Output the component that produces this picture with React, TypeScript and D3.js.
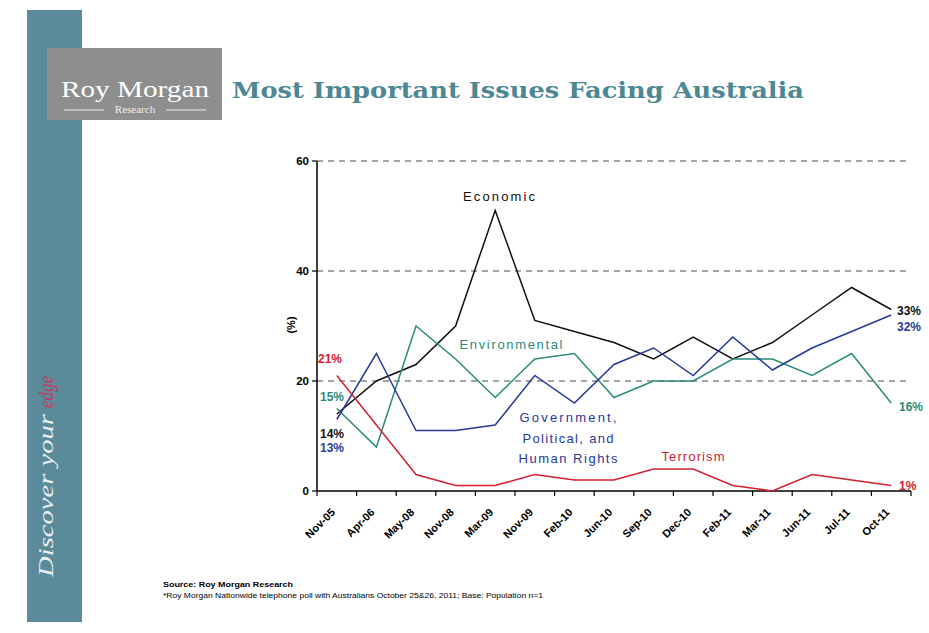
import React from 'react';
import * as d3 from 'd3';

const categories = ['Nov-05', 'Apr-06', 'May-08', 'Nov-08', 'Mar-09', 'Nov-09', 'Feb-10', 'Jun-10', 'Sep-10', 'Dec-10', 'Feb-11', 'Mar-11', 'Jun-11', 'Jul-11', 'Oct-11'];
const economic = [14, 20, 23, 30, 51, 31, 29, 27, 24, 28, 24, 27, 32, 37, 33];
const environmental = [15, 8, 30, 24, 17, 24, 25, 17, 20, 20, 24, 24, 21, 25, 16];
const government = [13, 25, 11, 11, 12, 21, 16, 23, 26, 21, 28, 22, 26, 29, 32];
const terrorism = [21, 12, 3, 1, 1, 3, 2, 2, 4, 4, 1, 0, 3, 2, 1];
const yTicks = [0, 20, 40, 60];
const gridTicks = [20, 40, 60];

const C_BLACK = '#111111';
const C_GREEN = '#2a8a7c';
const C_BLUE = '#28399a';
const C_RED = '#d4202f';

const W = 929;
const H = 633;

export default function App() {
  const x = d3.scaleBand<string>().domain(categories).range([317, 911]);
  const y = d3.scaleLinear().domain([0, 60]).range([491, 161]);
  const cx = (i: number) => (x(categories[i]) as number) + x.bandwidth() / 2;
  const line = d3
    .line<number>()
    .x((_, i) => cx(i))
    .y((d) => y(d))
    .curve(d3.curveLinear);

  const series = [
    { values: economic, color: C_BLACK },
    { values: environmental, color: C_GREEN },
    { values: government, color: C_BLUE },
    { values: terrorism, color: C_RED },
  ];

  const last = categories.length - 1;
  const font = 'Arial, "Liberation Sans", sans-serif';
  const ticksX = d3.range(categories.length + 1).map((i) => 317 + i * x.bandwidth());

  return (
    <svg width={W} height={H} style={{ position: 'absolute', left: 0, top: 0, background: '#ffffff' }}>
      {/* sidebar */}
      <rect x={27} y={10} width={55} height={612} fill="#5b8a9b" />
      <text
        transform="translate(53,577) rotate(-90)"
        fontFamily='"Liberation Serif", "DejaVu Serif", serif'
        fontStyle="italic"
        fontSize={22}
        fill="#e6eef0"
        textLength={163}
        lengthAdjust="spacingAndGlyphs"
      >
        Discover your
      </text>
      <text
        transform="translate(53,408) rotate(-90)"
        fontFamily='"Liberation Serif", "DejaVu Serif", serif'
        fontStyle="italic"
        fontSize={22}
        fill="#c23a5e"
        textLength={32}
        lengthAdjust="spacingAndGlyphs"
      >
        edge
      </text>

      {/* logo */}
      <rect x={47} y={48} width={175} height={72} fill="#8e8e8e" />
      <text x={135} y={97} textAnchor="middle" fontFamily='"Liberation Serif", "DejaVu Serif", serif' fontSize={24} fill="#ffffff" textLength={148} lengthAdjust="spacingAndGlyphs">
        Roy Morgan
      </text>
      <line x1={64} x2={104} y1={110} y2={110} stroke="#f0f0f0" strokeWidth={1} />
      <line x1={166} x2={206} y1={110} y2={110} stroke="#f0f0f0" strokeWidth={1} />
      <text x={135} y={113} textAnchor="middle" fontFamily='"Liberation Serif", "DejaVu Serif", serif' fontSize={11} fill="#f0f0f0">
        Research
      </text>

      {/* title */}
      <text x={232} y={98} fontFamily='"DejaVu Serif", serif' fontWeight="bold" fontSize={23} fill="#4b8894" textLength={572} lengthAdjust="spacingAndGlyphs">
        Most Important Issues Facing Australia
      </text>

      {/* gridlines */}
      {gridTicks.map((t) => (
        <line key={t} x1={317} x2={911} y1={y(t)} y2={y(t)} stroke="#888888" strokeWidth={1.3} strokeDasharray="6,5" />
      ))}

      {/* axes */}
      <line x1={317} x2={317} y1={y(60)} y2={y(0)} stroke="#000" strokeWidth={1.5} />
      <line x1={317} x2={911} y1={y(0)} y2={y(0)} stroke="#000" strokeWidth={1.5} />
      {yTicks.map((t) => (
        <g key={t}>
          <line x1={312} x2={317} y1={y(t)} y2={y(t)} stroke="#000" strokeWidth={1.2} />
          <text x={309} y={y(t) + 4} textAnchor="end" fontFamily={font} fontWeight="bold" fontSize={11.5} fill="#000">
            {t}
          </text>
        </g>
      ))}
      {ticksX.map((tx, i) => (
        <line key={i} x1={tx} x2={tx} y1={y(0)} y2={y(0) + 5} stroke="#000" strokeWidth={1.2} />
      ))}
      {categories.map((c, i) => (
        <text
          key={c}
          transform={`translate(${cx(i) - 1},${y(0) + 22}) rotate(-45)`}
          textAnchor="end"
          fontFamily={font}
          fontWeight="bold"
          fontSize={11}
          fill="#000"
        >
          {c}
        </text>
      ))}
      <text transform="translate(295,325) rotate(-90)" textAnchor="middle" fontFamily={font} fontWeight="bold" fontSize={11} fill="#000">
        (%)
      </text>

      {/* lines */}
      {series.map((s, i) => (
        <path key={i} d={line(s.values) || ''} fill="none" stroke={s.color} strokeWidth={1.5} />
      ))}

      {/* series labels */}
      <text x={499} y={201} textAnchor="middle" fontFamily={font} fontSize={13} fill={C_BLACK} textLength={72} lengthAdjust="spacing">
        Economic
      </text>
      <text x={511} y={349} textAnchor="middle" fontFamily={font} fontSize={13} fill={C_GREEN} textLength={103} lengthAdjust="spacing">
        Environmental
      </text>
      <text x={568} y={422} textAnchor="middle" fontFamily={font} fontSize={13} fill={C_BLUE} textLength={97} lengthAdjust="spacing">
        Government,
      </text>
      <text x={568} y={443} textAnchor="middle" fontFamily={font} fontSize={13} fill={C_BLUE} textLength={91} lengthAdjust="spacing">
        Political, and
      </text>
      <text x={568} y={463} textAnchor="middle" fontFamily={font} fontSize={13} fill={C_BLUE} textLength={99} lengthAdjust="spacing">
        Human Rights
      </text>
      <text x={693} y={461} textAnchor="middle" fontFamily={font} fontSize={13} fill={C_RED} textLength={63} lengthAdjust="spacing">
        Terrorism
      </text>

      {/* start value labels */}
      <text x={318} y={363} fontFamily={font} fontWeight="bold" fontSize={12} fill={C_RED}>{terrorism[0]}%</text>
      <text x={320} y={401} fontFamily={font} fontWeight="bold" fontSize={12} fill={C_GREEN}>{environmental[0]}%</text>
      <text x={320} y={438} fontFamily={font} fontWeight="bold" fontSize={12} fill={C_BLACK}>{economic[0]}%</text>
      <text x={320} y={452} fontFamily={font} fontWeight="bold" fontSize={12} fill={C_BLUE}>{government[0]}%</text>

      {/* end value labels */}
      <text x={897} y={315} fontFamily={font} fontWeight="bold" fontSize={12} fill={C_BLACK}>{economic[last]}%</text>
      <text x={897} y={331} fontFamily={font} fontWeight="bold" fontSize={12} fill={C_BLUE}>{government[last]}%</text>
      <text x={899} y={411} fontFamily={font} fontWeight="bold" fontSize={12} fill={C_GREEN}>{environmental[last]}%</text>
      <text x={899} y={490} fontFamily={font} fontWeight="bold" fontSize={12} fill={C_RED}>{terrorism[last]}%</text>

      {/* source */}
      <text x={163} y={587} fontFamily={font} fontWeight="bold" fontSize={8} fill="#000" textLength={130} lengthAdjust="spacingAndGlyphs">
        Source: Roy Morgan Research
      </text>
      <text x={163} y={598} fontFamily={font} fontSize={7.5} fill="#000" textLength={380} lengthAdjust="spacingAndGlyphs">
        *Roy Morgan Nationwide telephone poll with Australians October 25&amp;26, 2011; Base: Population n=1
      </text>
    </svg>
  );
}
